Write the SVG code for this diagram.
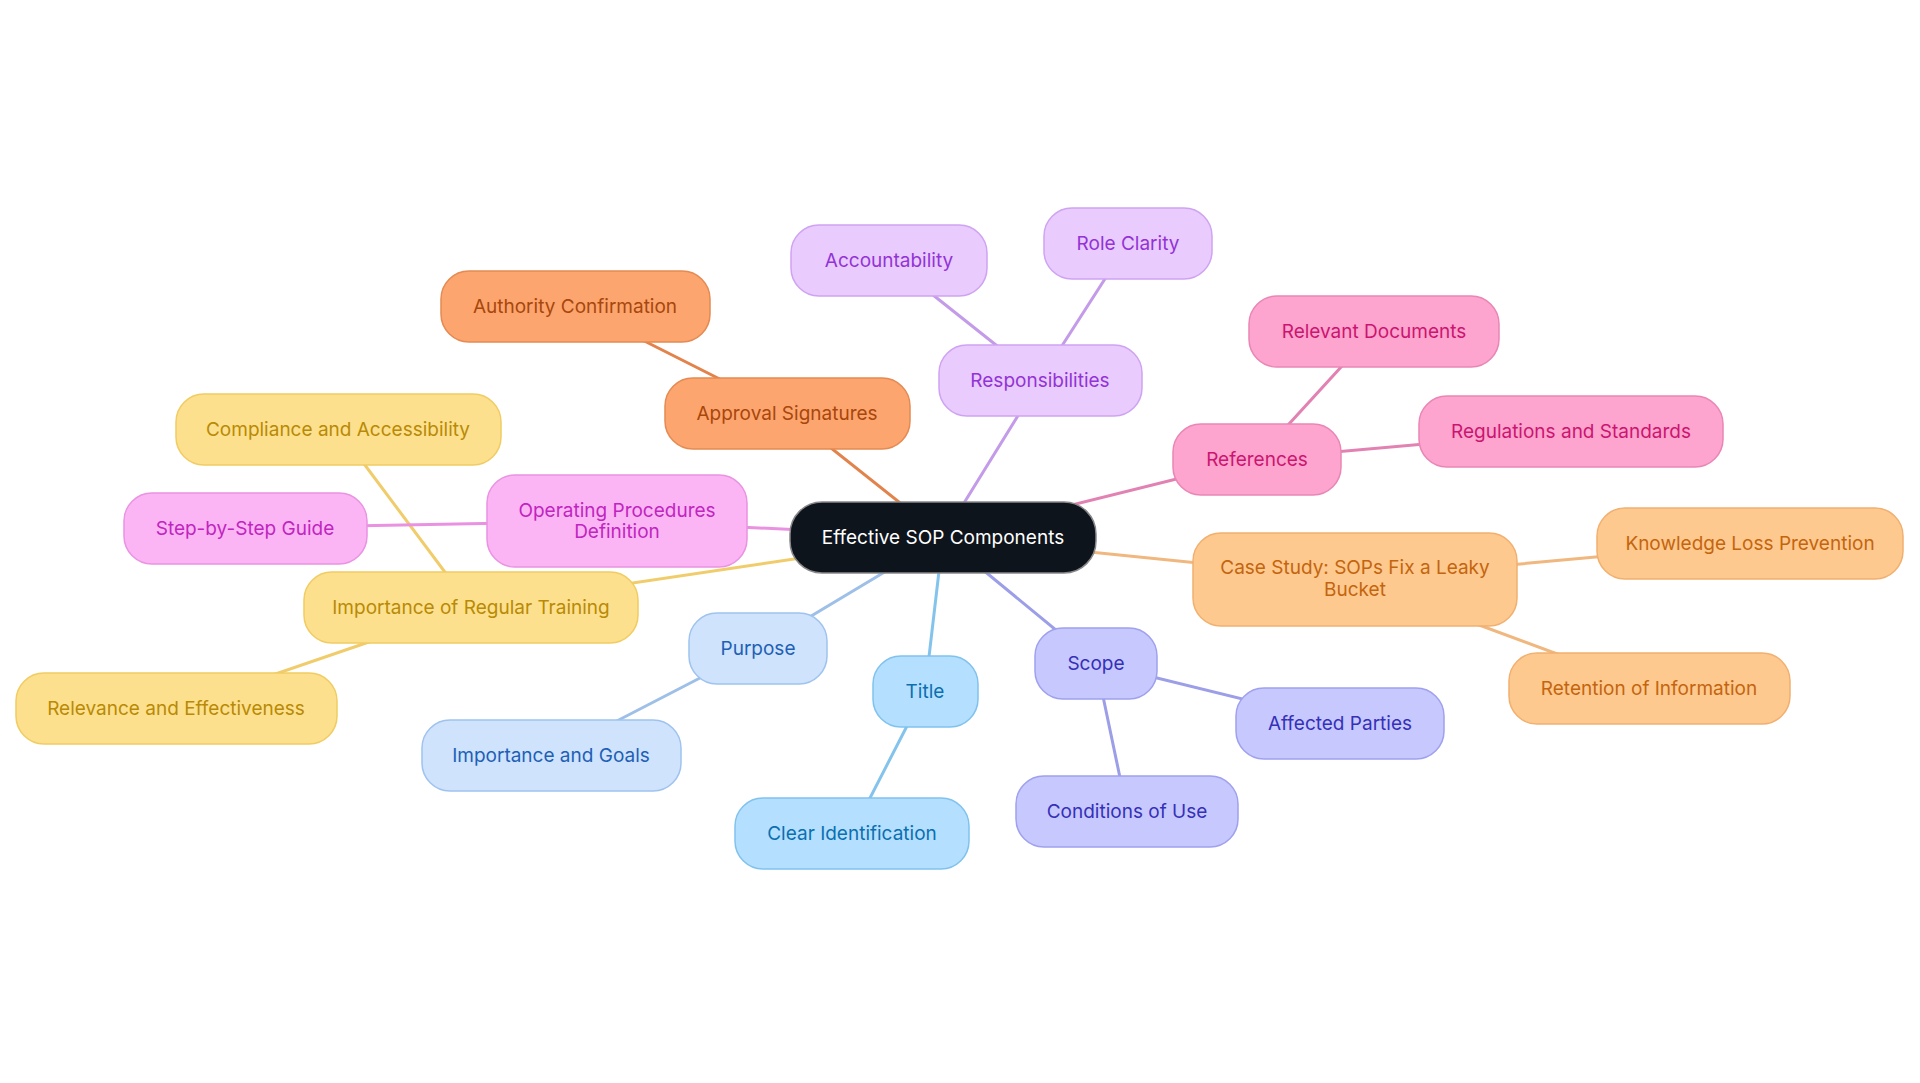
<svg xmlns="http://www.w3.org/2000/svg" width="1920" height="1083" viewBox="0 0 1920 1083">
<style>
text{font-family:Inter,"Open Sans","Liberation Sans",sans-serif;font-size:19px;text-anchor:middle;dominant-baseline:central}
.n rect{stroke-width:1.5}
#connectors line{stroke-width:3;stroke-linecap:round}
.c0 rect{fill:#0e141b;stroke:#888}.c0 text{fill:#ffffff}
.or rect{fill:#fda56f;stroke:#e48a52}.or text{fill:#a8470b}
.pu rect{fill:#e9cbfd;stroke:#cfa3f2}.pu text{fill:#9333d6}
.pk rect{fill:#fda4cf;stroke:#e986b5}.pk text{fill:#cc1470}
.lo rect{fill:#fec98f;stroke:#f1b070}.lo text{fill:#c4650e}
.in rect{fill:#c7c8fe;stroke:#9fa1ee}.in text{fill:#3530b8}
.lb rect{fill:#b5dffe;stroke:#80c2ee}.lb text{fill:#0b6fb0}
.pb rect{fill:#cfe3fd;stroke:#9fc3ee}.pb text{fill:#1d60b5}
.ye rect{fill:#fde08e;stroke:#f0cc62}.ye text{fill:#b88a05}
.mg rect{fill:#fcb5f4;stroke:#e993e2}.mg text{fill:#c025c0}
</style>
<rect width="1920" height="1083" fill="#ffffff"/>
<g id="connectors">
<line x1="943" y1="537" x2="787" y2="413" stroke="#e2834c"/>
<line x1="787" y1="413" x2="575" y2="306" stroke="#e2834c"/>
<line x1="943" y1="537" x2="1040" y2="380" stroke="#c49be9"/>
<line x1="1040" y1="380" x2="889" y2="260" stroke="#c49be9"/>
<line x1="1040" y1="380" x2="1128" y2="243" stroke="#c49be9"/>
<line x1="943" y1="537" x2="1257" y2="459" stroke="#e282b2"/>
<line x1="1257" y1="459" x2="1374" y2="331" stroke="#e282b2"/>
<line x1="1257" y1="459" x2="1571" y2="431" stroke="#e282b2"/>
<line x1="943" y1="537" x2="1355" y2="579" stroke="#f0b77e"/>
<line x1="1355" y1="579" x2="1750" y2="543" stroke="#f0b77e"/>
<line x1="1355" y1="579" x2="1649" y2="688" stroke="#f0b77e"/>
<line x1="943" y1="537" x2="1096" y2="663" stroke="#9c9ee8"/>
<line x1="1096" y1="663" x2="1340" y2="723" stroke="#9c9ee8"/>
<line x1="1096" y1="663" x2="1127" y2="811" stroke="#9c9ee8"/>
<line x1="943" y1="537" x2="925" y2="691" stroke="#84c4ec"/>
<line x1="925" y1="691" x2="852" y2="833" stroke="#84c4ec"/>
<line x1="943" y1="537" x2="758" y2="648" stroke="#9ec0e8"/>
<line x1="758" y1="648" x2="551" y2="755" stroke="#9ec0e8"/>
<line x1="943" y1="537" x2="471" y2="607" stroke="#f0cc6a"/>
<line x1="471" y1="607" x2="176" y2="708" stroke="#f0cc6a"/>
<line x1="471" y1="607" x2="338" y2="429" stroke="#f0cc6a"/>
<line x1="943" y1="537" x2="617" y2="521" stroke="#e992e1"/>
<line x1="617" y1="521" x2="245" y2="528" stroke="#e992e1"/>
</g>
<g id="n-center" class="n c0"><rect x="790" y="502" width="306" height="71" rx="32"/><text x="943" y="537">Effective SOP Components</text></g>
<g id="n-approval" class="n or"><rect x="665" y="378" width="245" height="71" rx="28"/><text x="787" y="413">Approval Signatures</text></g>
<g id="n-authority" class="n or"><rect x="441" y="271" width="269" height="71" rx="28"/><text x="575" y="306">Authority Confirmation</text></g>
<g id="n-resp" class="n pu"><rect x="939" y="345" width="203" height="71" rx="28"/><text x="1040" y="380">Responsibilities</text></g>
<g id="n-acct" class="n pu"><rect x="791" y="225" width="196" height="71" rx="28"/><text x="889" y="260">Accountability</text></g>
<g id="n-role" class="n pu"><rect x="1044" y="208" width="168" height="71" rx="28"/><text x="1128" y="243">Role Clarity</text></g>
<g id="n-refs" class="n pk"><rect x="1173" y="424" width="168" height="71" rx="28"/><text x="1257" y="459">References</text></g>
<g id="n-reldocs" class="n pk"><rect x="1249" y="296" width="250" height="71" rx="28"/><text x="1374" y="331">Relevant Documents</text></g>
<g id="n-regs" class="n pk"><rect x="1419" y="396" width="304" height="71" rx="28"/><text x="1571" y="431">Regulations and Standards</text></g>
<g id="n-case" class="n lo"><rect x="1193" y="533" width="324" height="93" rx="28"/><text x="1355" y="567">Case Study: SOPs Fix a Leaky</text><text x="1355" y="589">Bucket</text></g>
<g id="n-know" class="n lo"><rect x="1597" y="508" width="306" height="71" rx="28"/><text x="1750" y="543">Knowledge Loss Prevention</text></g>
<g id="n-ret" class="n lo"><rect x="1509" y="653" width="281" height="71" rx="28"/><text x="1649" y="688">Retention of Information</text></g>
<g id="n-scope" class="n in"><rect x="1035" y="628" width="122" height="71" rx="28"/><text x="1096" y="663">Scope</text></g>
<g id="n-affected" class="n in"><rect x="1236" y="688" width="208" height="71" rx="28"/><text x="1340" y="723">Affected Parties</text></g>
<g id="n-cond" class="n in"><rect x="1016" y="776" width="222" height="71" rx="28"/><text x="1127" y="811">Conditions of Use</text></g>
<g id="n-title" class="n lb"><rect x="873" y="656" width="105" height="71" rx="28"/><text x="925" y="691">Title</text></g>
<g id="n-clear" class="n lb"><rect x="735" y="798" width="234" height="71" rx="28"/><text x="852" y="833">Clear Identification</text></g>
<g id="n-purpose" class="n pb"><rect x="689" y="613" width="138" height="71" rx="28"/><text x="758" y="648">Purpose</text></g>
<g id="n-goals" class="n pb"><rect x="422" y="720" width="259" height="71" rx="28"/><text x="551" y="755">Importance and Goals</text></g>
<g id="n-training" class="n ye"><rect x="304" y="572" width="334" height="71" rx="28"/><text x="471" y="607">Importance of Regular Training</text></g>
<g id="n-relevance" class="n ye"><rect x="16" y="673" width="321" height="71" rx="28"/><text x="176" y="708">Relevance and Effectiveness</text></g>
<g id="n-compliance" class="n ye"><rect x="176" y="394" width="325" height="71" rx="28"/><text x="338" y="429">Compliance and Accessibility</text></g>
<g id="n-operating" class="n mg"><rect x="487" y="475" width="260" height="92" rx="28"/><text x="617" y="510">Operating Procedures</text><text x="617" y="531">Definition</text></g>
<g id="n-step" class="n mg"><rect x="124" y="493" width="243" height="71" rx="28"/><text x="245" y="528">Step-by-Step Guide</text></g>
</svg>
